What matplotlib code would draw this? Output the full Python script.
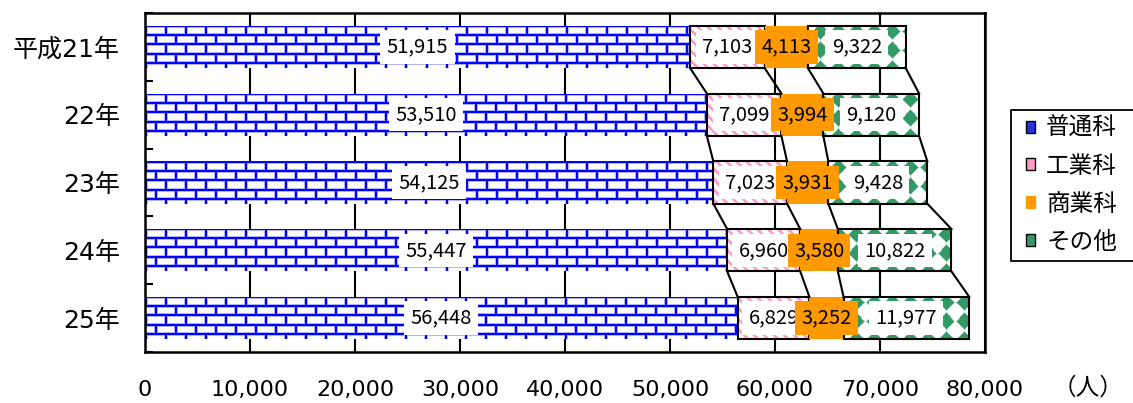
import numpy as np
import matplotlib.pyplot as plt
from matplotlib.patches import Patch
from matplotlib.lines import Line2D

plt.rcParams['font.family'] = ['Noto Sans CJK JP', 'DejaVu Sans']

# data
years = ['平成21年', '22年', '23年', '24年', '25年']
courses = ['普通科', '工業科', '商業科', 'その他']
futsu = [51915, 53510, 54125, 55447, 56448]
kogyo = [7103, 7099, 7023, 6960, 6829]
shogyo = [4113, 3994, 3931, 3580, 3252]
sonota = [9322, 9120, 9428, 10822, 11977]
x_ticks = [0, 10000, 20000, 30000, 40000, 50000, 60000, 70000, 80000]
unit = '（人）'

# axes placement in pixels (figure is 1133 x 403)
W, H = 1133, 403
AX_L, AX_R, AX_T, AX_B = 145, 985, 13, 352
XMAX = 80000
BAR_H = 0.625
px_x = (AX_R - AX_L) / XMAX
px_y = (AX_B - AX_T) / len(years)


# fill patterns, built in screen pixels
def grid(ny, nx, x0, y0):
    yy, xx = np.mgrid[0:ny, 0:nx]
    return yy + y0, xx + x0


def bricks(ny, nx, x0):
    yy, xx = grid(ny, nx, x0, 0)
    ry = yy % 9
    rx = (xx + (yy // 9 % 2) * 10) % 20
    img = np.ones((ny, nx, 3))
    img[(ry == 2) | (ry == 8) | (rx == 2) | (rx == 19)] = (0.7, 0.7, 1.0)
    img[(ry < 2) | (rx < 2)] = (0.0, 0.0, 1.0)
    return img


def stripes(ny, nx, x0):
    yy, xx = grid(ny, nx, x0, 0)
    d = (xx - yy) % 10
    img = np.ones((ny, nx, 3))
    img[(d == 3) | (d == 9)] = (1.0, 0.85, 0.93)
    img[d < 3] = (1.0, 0.6, 0.8)
    return img


def diamonds(ny, nx, x0):
    yy, xx = grid(ny, nx, x0, 3)
    dist = np.abs(xx % 18 - 9) + np.abs(yy % 18 - 9)
    img = np.ones((ny, nx, 3))
    img[dist < 8.5] = (0.6, 0.82, 0.72)
    img[dist < 7.5] = (0.2, 0.6, 0.4)
    return img


series = [futsu, kogyo, shogyo, sonota]
fills = [bricks, stripes, None, diamonds]
solid = [None, None, '#FF9900', None]
edges = ['none', 'black', 'none', 'black']
label_bg = ['white', 'white', '#FF9900', 'white']

fig = plt.figure(figsize=(W / 100, H / 100), dpi=100)
ax = fig.add_axes([AX_L / W, 1 - AX_B / H, (AX_R - AX_L) / W, (AX_B - AX_T) / H])

ypos = np.arange(len(years))
lefts = np.zeros(len(years))
bounds = []
for vals, fill, fc, ec, bg in zip(series, fills, solid, edges, label_bg):
    vals = np.array(vals)
    bars = ax.barh(ypos, vals, left=lefts, height=BAR_H,
                   color=fc if fc else 'none', edgecolor=ec, linewidth=1.5, zorder=3)
    for j, (b, l, v) in enumerate(zip(bars, lefts, vals)):
        if fill is not None:
            nx = int(round(v * px_x))
            ny = int(round(BAR_H * px_y))
            x0 = int(round(l * px_x))
            im = ax.imshow(fill(ny, nx, x0), extent=(l, l + v, j + BAR_H / 2, j - BAR_H / 2),
                           aspect='auto', interpolation='nearest', zorder=2)
            im.set_clip_path(b)
        ax.text(l + v / 2, j, f'{v:,}', ha='center', va='center', fontsize=14.5, zorder=6,
                bbox=dict(facecolor=bg, edgecolor='none', pad=4.5))
    lefts = lefts + vals
    bounds.append(lefts.copy())

# series lines between bars
for c in bounds:
    for j in range(len(years) - 1):
        ax.plot([c[j], c[j + 1]], [j + BAR_H / 2, j + 1 - BAR_H / 2],
                color='black', linewidth=1.5, zorder=4)

ax.set_xlim(0, XMAX)
ax.set_ylim(len(years) - 0.5, -0.5)

ax.set_xticks(x_ticks)
ax.set_xticklabels([f'{t:,}' for t in x_ticks], family=['DejaVu Sans', 'Noto Sans CJK JP'], fontsize=16)
ax.tick_params(axis='x', length=0, pad=20)
ax.set_yticks(ypos)
ax.set_yticklabels(years, family=['DejaVu Sans', 'Noto Sans CJK JP'], fontsize=18)
ax.tick_params(axis='y', length=0, pad=18)
ax.set_yticks(np.arange(-0.5, len(years)), minor=True)
ax.tick_params(axis='y', which='minor', direction='in', length=6, width=1.5)

ax.grid(axis='x', color='black', linewidth=1.5)
ax.set_axisbelow(True)
for s in ax.spines.values():
    s.set_linewidth(1.8)

# legend (frame runs off the right edge as in the source)
handles = [
    Patch(facecolor='#2233DD', edgecolor='black'),
    Patch(facecolor='#FF99CC', edgecolor='black'),
    Patch(facecolor='#FF9900', edgecolor='#FF9900'),
    Patch(facecolor='#339966', edgecolor='black'),
]
fig.legend(handles, courses, loc='upper left', bbox_to_anchor=(1026 / W, 1 - 117 / H),
           fontsize=17, frameon=False,
           handlelength=0.4, handleheight=0.4, handletextpad=0.45,
           labelspacing=0.63, borderaxespad=0, borderpad=0)
fx = [1.0, 1011 / W, 1011 / W, 1.0]
fy = [1 - 110 / H, 1 - 110 / H, 1 - 261 / H, 1 - 261 / H]
fig.add_artist(Line2D(fx, fy, transform=fig.transFigure, color='black', linewidth=1.3))

fig.text(1088 / W, 1 - 388 / H, unit, ha='center', va='center', fontsize=17)

fig.savefig('out.png', dpi=100)
